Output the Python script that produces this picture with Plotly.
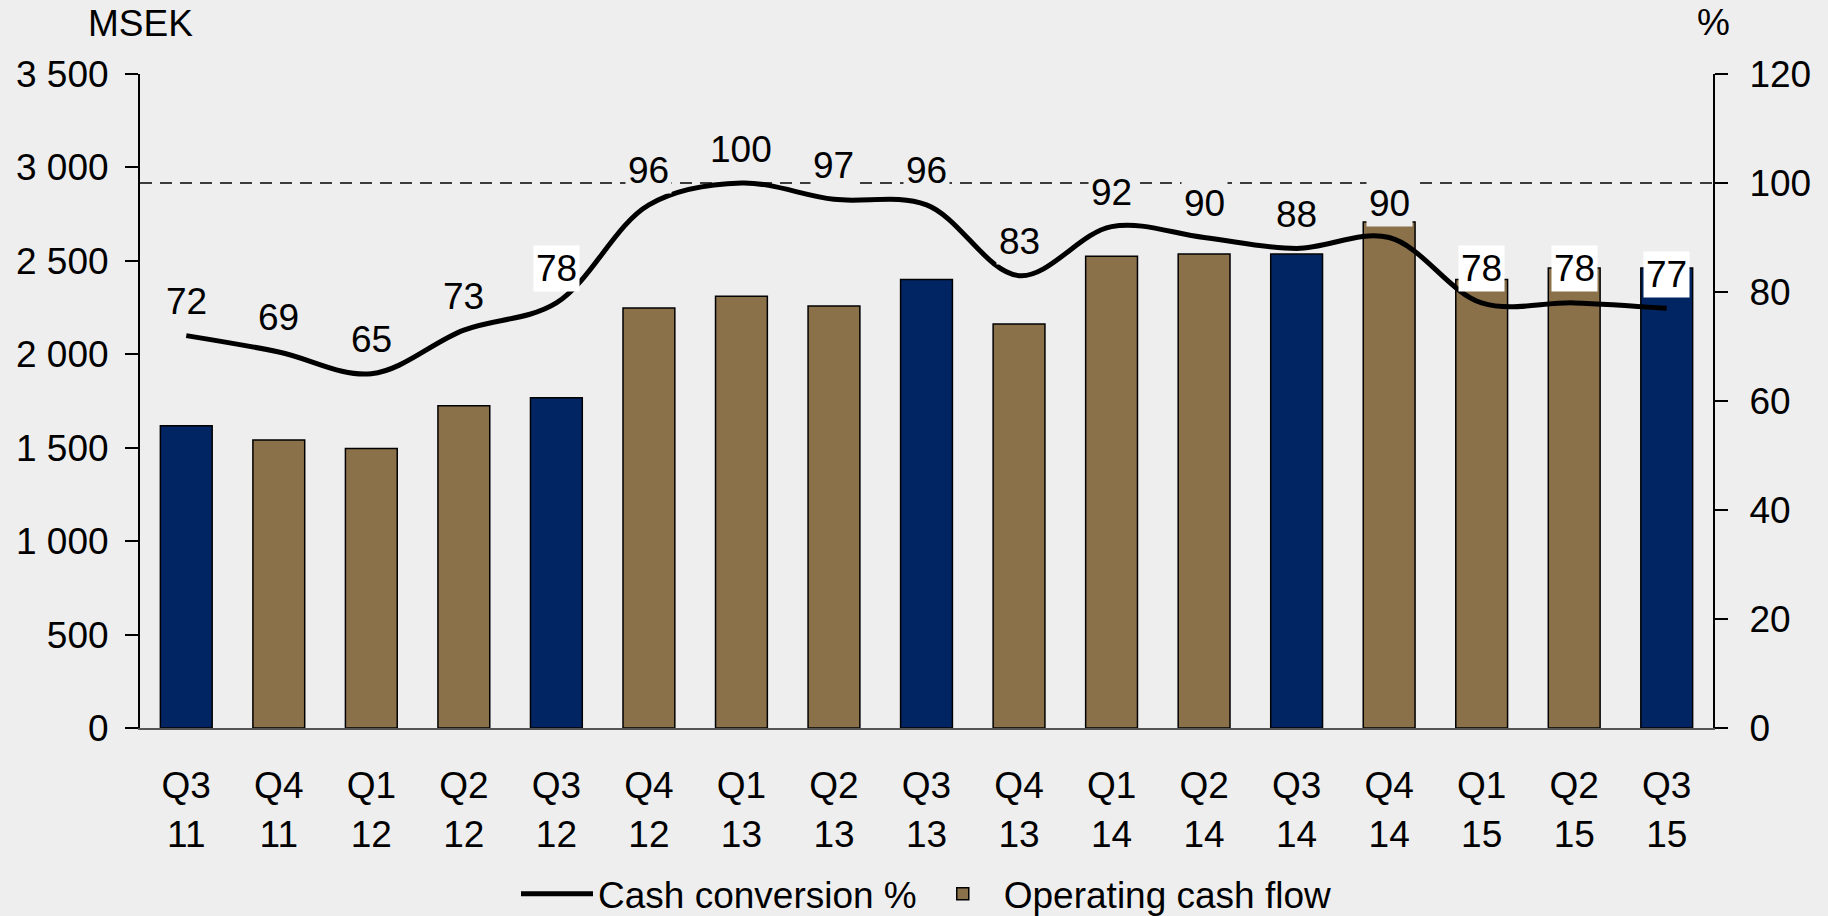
import plotly.graph_objects as go

quarters = ["Q3<br>11", "Q4<br>11", "Q1<br>12", "Q2<br>12", "Q3<br>12", "Q4<br>12",
            "Q1<br>13", "Q2<br>13", "Q3<br>13", "Q4<br>13", "Q1<br>14", "Q2<br>14",
            "Q3<br>14", "Q4<br>14", "Q1<br>15", "Q2<br>15", "Q3<br>15"]
operating_cash_flow = [1617, 1541, 1496, 1725, 1767, 2248, 2310, 2259, 2400, 2162,
                       2524, 2537, 2537, 2708, 2400, 2462, 2462]
cash_conversion = [72, 69, 65, 73, 78, 96, 100, 97, 96, 83, 92, 90, 88, 90, 78, 78, 77]
target_pct = 100
left_ticks = [0, 500, 1000, 1500, 2000, 2500, 3000, 3500]
left_ticktext = ["0", "500", "1 000", "1 500", "2 000", "2 500", "3 000", "3 500"]
right_ticks = [0, 20, 40, 60, 80, 100, 120]

BG = "#EEEEEE"
NAVY = "#002562"
BROWN = "#8B714A"
FONT = "Liberation Sans, Arial, sans-serif"
FS = 37

is_q3 = [q.startswith("Q3") for q in quarters]
brown_vals = [v if not q3 else None for v, q3 in zip(operating_cash_flow, is_q3)]
navy_vals = [v if q3 else None for v, q3 in zip(operating_cash_flow, is_q3)]
label_bg = ["#FFFFFF" if i in (4, 14, 15, 16) else BG for i in range(len(quarters))]

fig = go.Figure()
fig.add_trace(go.Bar(x=quarters, y=brown_vals, name="Operating cash flow",
                     marker=dict(color=BROWN, line=dict(color="black", width=1.5)),
                     showlegend=True, legendrank=2))
fig.add_trace(go.Bar(x=quarters, y=navy_vals, name="Operating cash flow (Q3)",
                     marker=dict(color=NAVY, line=dict(color="black", width=1.5)),
                     showlegend=False))
fig.add_trace(go.Scatter(x=quarters, y=cash_conversion, yaxis="y2", mode="lines",
                         name="Cash conversion %",
                         line=dict(color="black", width=5, shape="spline", smoothing=1),
                         legendrank=1))

fig.add_shape(type="line", xref="paper", yref="y2", x0=0, x1=1, y0=target_pct, y1=target_pct,
              line=dict(color="black", width=1.3, dash="12px,8px"), layer="below")

for q, v, bg in zip(quarters, cash_conversion, label_bg):
    fig.add_annotation(x=q, y=v, yref="y2", text=str(v), showarrow=False, yshift=34,
                       bgcolor=bg, borderpad=2, font=dict(size=FS, color="black", family=FONT))

fig.add_annotation(text="MSEK", xref="paper", yref="paper", x=0, y=1.112,
                   xanchor="center", yanchor="top", showarrow=False,
                   font=dict(size=FS, color="black", family=FONT))
fig.add_annotation(text="%", xref="paper", yref="paper", x=1, y=1.078,
                   xanchor="center", yanchor="middle", showarrow=False,
                   font=dict(size=FS, color="black", family=FONT))

fig.update_layout(
    width=1828, height=916,
    margin=dict(l=140, r=115, t=74, b=188, autoexpand=False),
    paper_bgcolor=BG, plot_bgcolor=BG,
    font=dict(family=FONT, size=FS, color="black"),
    barmode="overlay", bargap=0.44,
    showlegend=True,
    legend=dict(orientation="h", x=0.5, xanchor="center", y=-0.254, yanchor="middle",
                bgcolor="rgba(0,0,0,0)", font=dict(size=FS), traceorder="normal",
                itemwidth=72),
    xaxis=dict(showgrid=False, zeroline=False, showline=True, linecolor="#555555",
               linewidth=2, ticks="", ticklabelstandoff=24, automargin=False),
    yaxis=dict(range=[0, 3500], tickvals=left_ticks, ticktext=left_ticktext,
               showgrid=False, zeroline=False, showline=True, linecolor="black",
               linewidth=2, ticks="outside", ticklen=13, tickwidth=2, tickcolor="black",
               ticklabelstandoff=9, automargin=False),
    yaxis2=dict(range=[0, 120], tickvals=right_ticks, overlaying="y", side="right",
                showgrid=False, zeroline=False, showline=True, linecolor="black",
                linewidth=2, ticks="outside", ticklen=13, tickwidth=2, tickcolor="black",
                ticklabelstandoff=14, automargin=False),
)

fig.write_html("out.html", config={"displayModeBar": False},
               post_script="document.body.style.margin='0';")
